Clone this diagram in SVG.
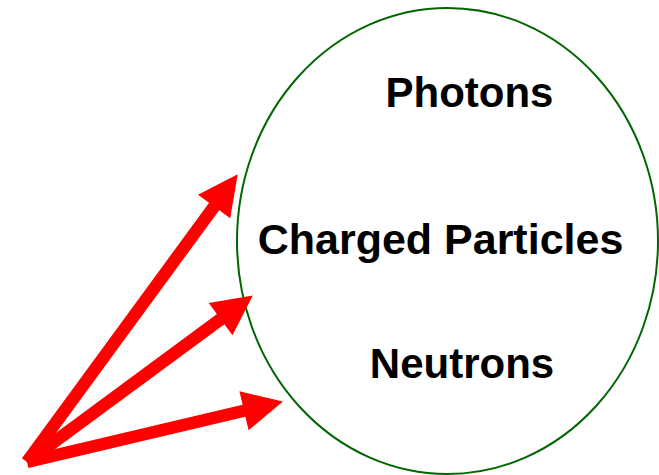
<svg xmlns="http://www.w3.org/2000/svg" width="659" height="475" viewBox="0 0 659 475">
<style>
.lbl{font-family:"Liberation Sans",Arial,sans-serif;font-weight:bold;font-size:42px;fill:#000;text-anchor:middle}
.big{font-size:43px}
.arr{stroke:#ff0000;stroke-width:12.5;fill:none;marker-end:url(#head)}
</style>
<defs>
<marker id="head" markerUnits="userSpaceOnUse" viewBox="0 0 39 40" refX="0" refY="20" markerWidth="39" markerHeight="40" orient="auto" overflow="visible">
<path d="M-1,0 L39,20 L-1,40 Z" fill="#ff0000"/>
</marker>
</defs>
<rect width="659" height="475" fill="#fff"/>
<g id="region">
<ellipse cx="447.5" cy="241" rx="210.5" ry="233" fill="none" stroke="#006600" stroke-width="2"/>
</g>
<g id="photons"><text class="lbl" x="469.5" y="107">Photons</text></g>
<g id="charged"><text class="lbl big" x="440.5" y="254">Charged Particles</text></g>
<g id="neutrons"><text class="lbl" x="462" y="378">Neutrons</text></g>
<g id="connectors">
<line class="arr" x1="27" y1="462" x2="214.7" y2="205.7"/>
<line class="arr" x1="27" y1="462" x2="221.4" y2="318.6"/>
<line class="arr" x1="27" y1="462" x2="245" y2="410.5"/>
</g>
</svg>
